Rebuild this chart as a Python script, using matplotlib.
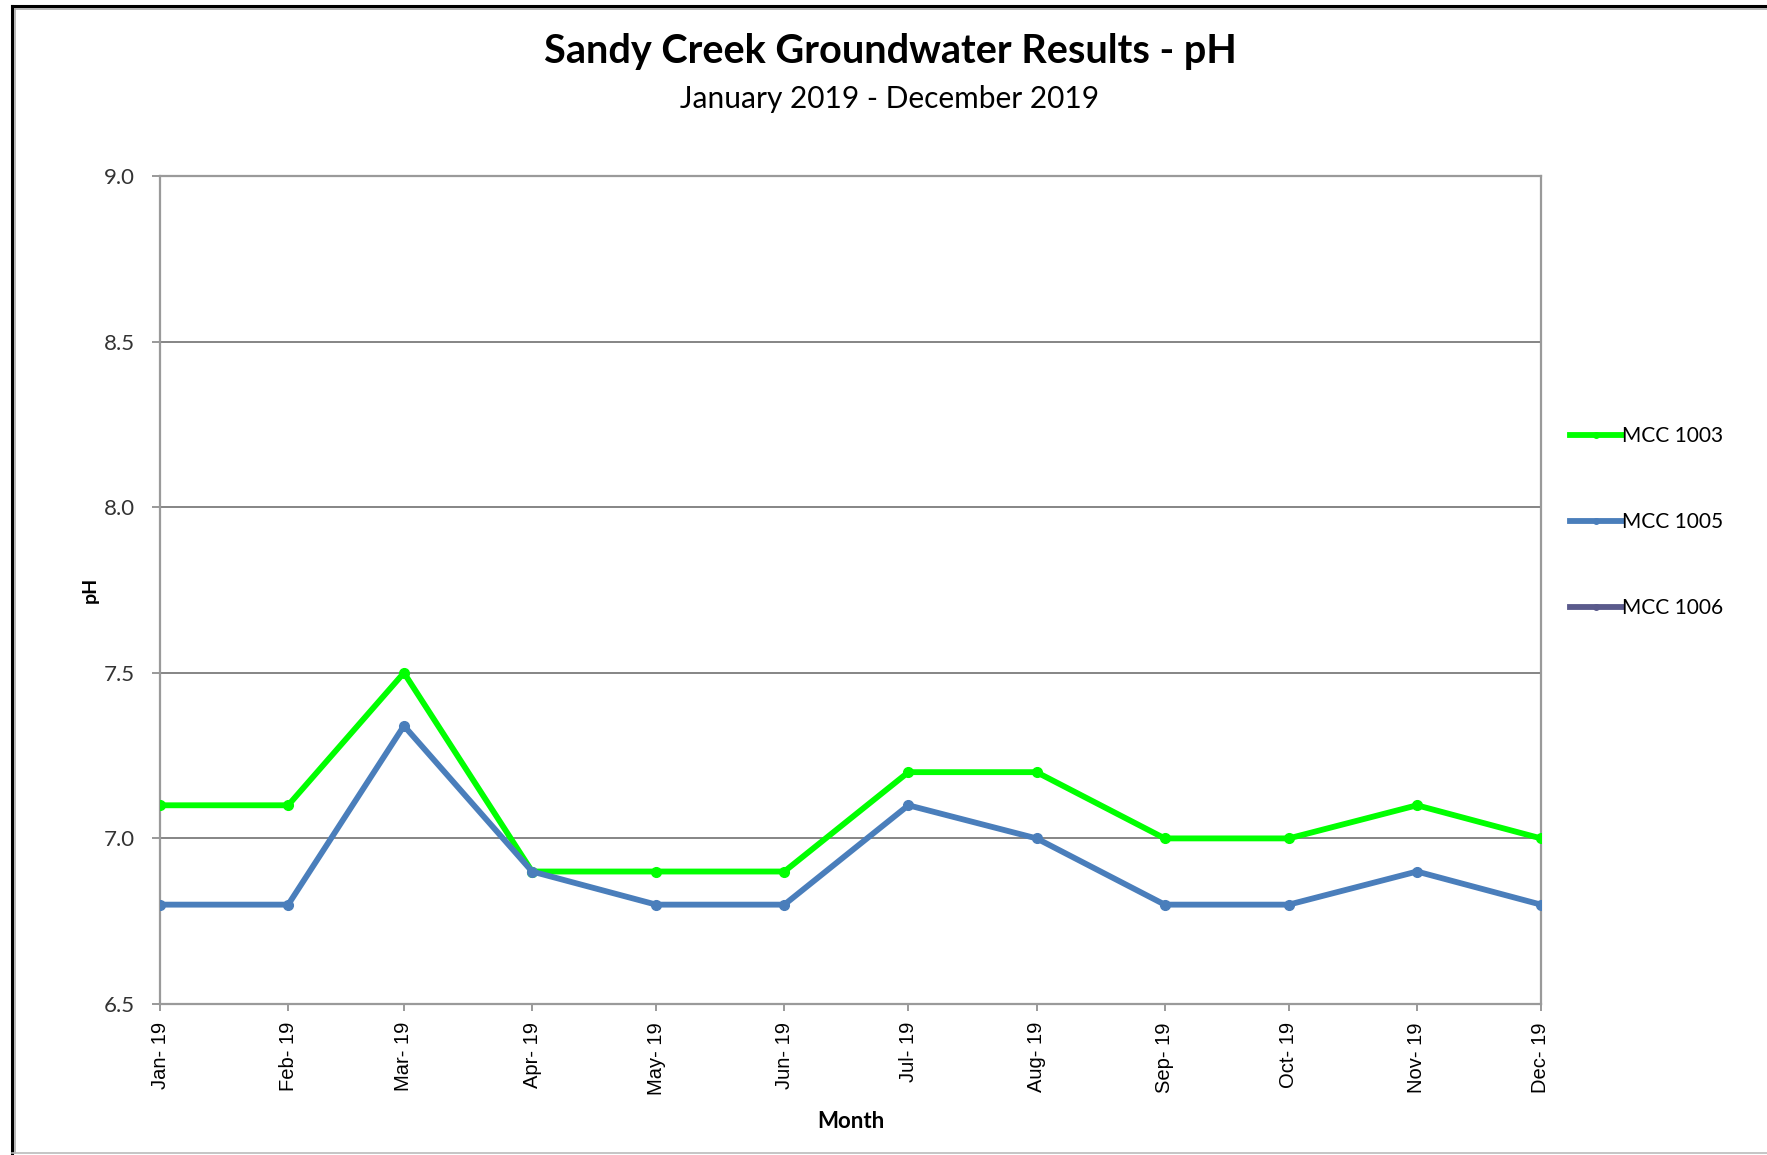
import numpy as np
import matplotlib
matplotlib.use("Agg")
import matplotlib.pyplot as plt
from matplotlib.lines import Line2D
import datetime as dt

months = ["2019-01-01", "2019-02-01", "2019-03-01", "2019-04-01", "2019-05-01", "2019-06-01",
          "2019-07-01", "2019-08-01", "2019-09-01", "2019-10-01", "2019-11-01", "2019-12-01"]
mcc_1003 = [7.1, 7.1, 7.5, 6.9, 6.9, 6.9, 7.2, 7.2, 7.0, 7.0, 7.1, 7.0]
mcc_1005 = [6.8, 6.8, 7.34, 6.9, 6.8, 6.8, 7.1, 7.0, 6.8, 6.8, 6.9, 6.8]
mcc_1006 = [np.nan] * 12
series_names = ["MCC 1003", "MCC 1005", "MCC 1006"]
title = "Sandy Creek Groundwater Results - pH"
subtitle = "January 2019 - December 2019"

dates = [dt.datetime.strptime(m, "%Y-%m-%d") for m in months]

plt.rcParams['font.family'] = ['Lato', 'DejaVu Sans']

W, H = 1767, 1155
fig = plt.figure(figsize=(W / 100, H / 100), dpi=100)
ax = fig.add_axes([160 / W, 1 - 1004 / H, (1541 - 160) / W, (1004 - 176) / H])

colors = ["#00FF00", "#4A7EBB", "#5A5A8C"]
for vals, name, c in zip([mcc_1003, mcc_1005, mcc_1006], series_names, colors):
    ax.plot(dates, vals, color=c, lw=4.2, marker='o', ms=7, label=name, zorder=3)

ax.set_ylim(6.5, 9.0)
ax.set_yticks(np.arange(6.5, 9.01, 0.5))
ax.yaxis.set_major_formatter(matplotlib.ticker.FormatStrFormatter('%.1f'))
ax.set_xlim(dates[0], dates[-1])
ax.set_xticks(dates)
ax.set_xticklabels([d.strftime("%b- %y") for d in dates], rotation=90,
                   fontsize=14.5, family=['Liberation Sans'])
ax.tick_params(axis='y', labelsize=16, length=6, width=1.2, pad=12,
               colors='#888888', labelcolor='#333333')
ax.tick_params(axis='x', length=5, width=1.2, colors='#888888', labelcolor='black', pad=8)

ax.grid(axis='y', color='#858585', lw=1.4)
ax.set_axisbelow(True)
for side in ['top', 'right', 'left', 'bottom']:
    ax.spines[side].set_color('#9a9a9a')
    ax.spines[side].set_linewidth(1.6)

ax.set_ylabel("pH", fontsize=14, fontweight='bold', labelpad=4)
ax.set_xlabel("Month", fontsize=16, fontweight='bold', labelpad=12)

fig.text(890 / W, 1 - 52 / H, title, ha='center', va='center', fontsize=28.5, fontweight='bold')
fig.text(890 / W, 1 - 99 / H, subtitle, ha='center', va='center', fontsize=21.5)

leg = ax.legend(loc='center left', bbox_to_anchor=(1.015, 0.582), frameon=False,
                fontsize=15, handlelength=2.5, handletextpad=0.0, labelspacing=3.17,
                borderaxespad=0)
for h in leg.legend_handles:
    h.set_markersize(4)

# outer frame
fig.add_artist(Line2D([12 / W, 1], [1 - 6 / H, 1 - 6 / H], color='black', lw=2.2, transform=fig.transFigure))
fig.add_artist(Line2D([14 / W, 1], [1 - 9 / H, 1 - 9 / H], color='#aaaaaa', lw=1.2, transform=fig.transFigure))
fig.add_artist(Line2D([12 / W, 12 / W], [1 - 6 / H, 1 - 1153 / H], color='black', lw=2.2, transform=fig.transFigure))
fig.add_artist(Line2D([15 / W, 15 / W], [1 - 9 / H, 1 - 1153 / H], color='#aaaaaa', lw=1.2, transform=fig.transFigure))
fig.add_artist(Line2D([12 / W, 1], [1 - 1153 / H, 1 - 1153 / H], color='#bbbbbb', lw=1.2, transform=fig.transFigure))

fig.savefig("out.png", dpi=100)
